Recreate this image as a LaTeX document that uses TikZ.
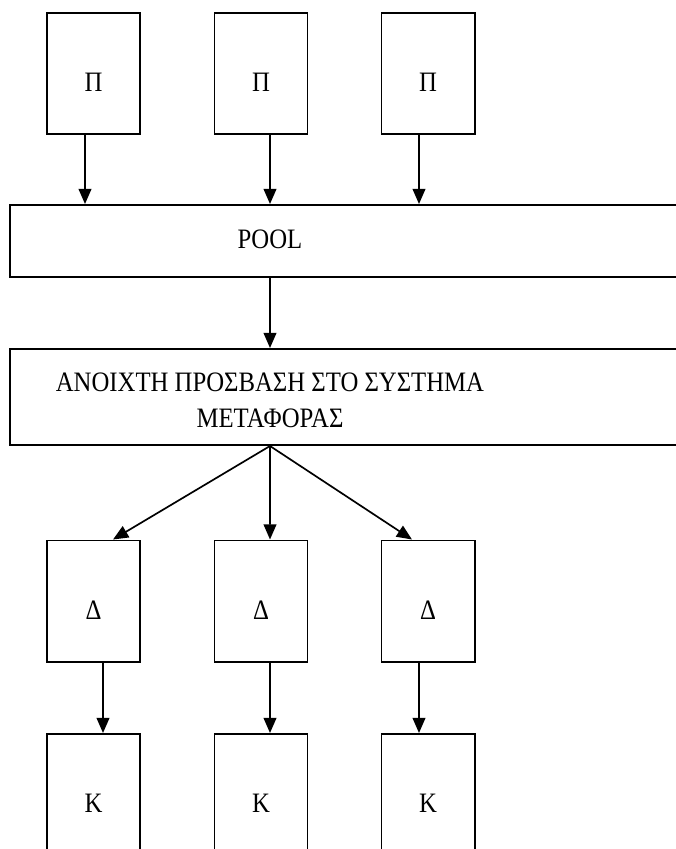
\documentclass[tikz,border=0pt]{standalone}
\usepackage{fontspec}
\setmainfont[FakeStretch=0.88]{Liberation Serif}
\usetikzlibrary{arrows.meta}

\tikzset{
  smallbox/.style={draw, line width=1.4pt, minimum width=2.325cm, minimum height=3.025cm,
    inner sep=0pt, text height=0.9cm, text depth=0pt},
  widebox/.style={draw, line width=1.4pt, minimum width=17.25cm, inner sep=0pt},
  arr/.style={line width=1.2pt, -{Triangle[length=0.38cm, width=0.32cm]}},
}

\begin{document}
\begin{tikzpicture}[x=0.025cm, y=-0.025cm, font=\fontsize{20}{25.5}\selectfont]
    \useasboundingbox (0,0) rectangle (676,849);
    \clip (0,0) rectangle (676,849);

    % Π
    \node[smallbox] (p1) at (93.5,73.5) {Π};
    \node[smallbox] (p2) at (261,73.5) {Π};
    \node[smallbox] (p3) at (428,73.5) {Π};

    % POOL
    \node[widebox, minimum height=1.8cm] (poolbox) at (355,241) {};
    \node (pool) at (270,239) {POOL};

    % ανοιχτη προσβαση
    \node[widebox, minimum height=2.4cm] (accbox) at (355,397) {};
    \node[align=center] (acc) at (270,400) {ΑΝΟΙΧΤΗ ΠΡΟΣΒΑΣΗ ΣΤΟ ΣΥΣΤΗΜΑ\\ΜΕΤΑΦΟΡΑΣ};

    % Δ
    \node[smallbox] (d1) at (93.5,601) {Δ};
    \node[smallbox] (d2) at (261,601) {Δ};
    \node[smallbox] (d3) at (428,601) {Δ};

    % Κ
    \node[smallbox] (k1) at (93.5,794.5) {Κ};
    \node[smallbox] (k2) at (261,794.5) {Κ};
    \node[smallbox] (k3) at (428,794.5) {Κ};

    % βελη
    \draw[arr] ([xshift=-0.2125cm]p1.south) -- ([xshift=-0.2125cm]p1.south |- poolbox.north);
    \draw[arr] ([xshift=0.225cm]p2.south) -- ([xshift=0.225cm]p2.south |- poolbox.north);
    \draw[arr] ([xshift=-0.225cm]p3.south) -- ([xshift=-0.225cm]p3.south |- poolbox.north);

    \draw[arr] (pool |- poolbox.south) -- (pool |- accbox.north);

    \draw[arr] (pool |- accbox.south) -- ([xshift=0.4875cm]d1.north);
    \draw[arr] (pool |- accbox.south) -- ([xshift=0.225cm]d2.north);
    \draw[arr] (pool |- accbox.south) -- ([xshift=-0.4cm]d3.north);

    \draw[arr] ([xshift=0.2375cm]d1.south) -- ([xshift=0.2375cm]k1.north);
    \draw[arr] ([xshift=0.225cm]d2.south) -- ([xshift=0.225cm]k2.north);
    \draw[arr] ([xshift=-0.225cm]d3.south) -- ([xshift=-0.225cm]k3.north);
\end{tikzpicture}
\end{document}
